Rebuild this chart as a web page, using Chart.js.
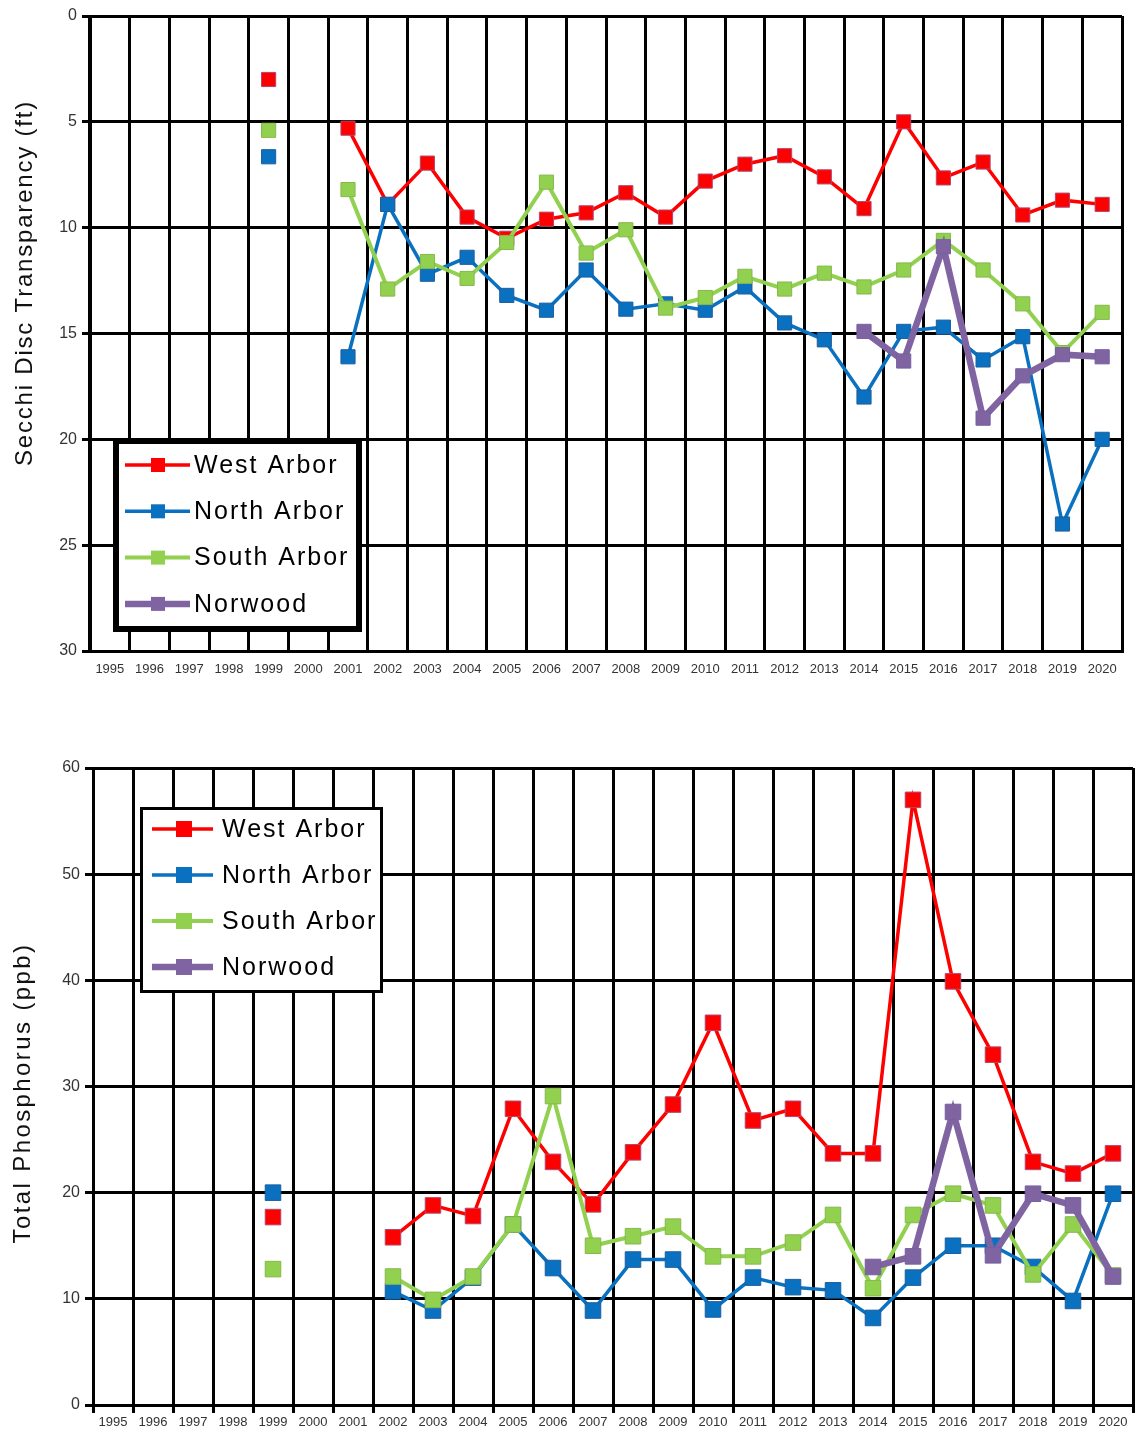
<!DOCTYPE html>
<html>
<head>
<meta charset="utf-8">
<title>Secchi Disc Transparency and Total Phosphorus</title>
<script src="https://cdn.jsdelivr.net/npm/chart.js@4.4.1/dist/chart.umd.min.js"></script>
<style>
  body { margin: 0; background: #fff; overflow: hidden; }
  .wrap { position: absolute; left: 0; width: 1136px; }
</style>
</head>
<body>
<div class="wrap" style="top:0;height:690px"><canvas id="secchi"></canvas></div>
<div class="wrap" style="top:740px;height:695px"><canvas id="phos"></canvas></div>
<script>
const years = ['1995','1996','1997','1998','1999','2000','2001','2002','2003','2004','2005','2006','2007',
  '2008','2009','2010','2011','2012','2013','2014','2015','2016','2017','2018','2019','2020'];
const seriesNames = ['West Arbor', 'North Arbor', 'South Arbor', 'Norwood'];

// Secchi disc transparency (ft), 1995..2020
const secchiWest  = [null,null,null,null,3.0,null,5.3,8.9,6.95,9.5,10.5,9.6,9.3,8.35,9.5,7.8,7.0,6.6,7.6,9.1,5.0,7.65,6.9,9.4,8.7,8.9];
const secchiNorth = [null,null,null,null,6.65,null,16.1,8.9,12.2,11.4,13.2,13.9,12.0,13.85,13.6,13.9,12.8,14.5,15.3,18.0,14.9,14.7,16.25,15.15,24.0,20.0];
const secchiSouth = [null,null,null,null,5.4,null,8.2,12.9,11.6,12.4,10.7,7.85,11.2,10.1,13.8,13.3,12.3,12.9,12.15,12.8,12.0,10.6,12.0,13.6,15.9,14.0];
const secchiNorwood = [null,null,null,null,null,null,null,null,null,null,null,null,null,null,null,null,null,null,null,14.9,16.3,10.9,19.0,17.0,16.0,16.1];
const secchiTicks = [0, 5, 10, 15, 20, 25, 30];

// Total phosphorus (ppb), 1995..2020
const phosWest  = [null,null,null,null,17.7,null,null,15.8,18.8,17.8,27.9,22.9,18.9,23.8,28.3,36.0,26.8,27.9,23.7,23.7,57.0,39.9,33.0,22.9,21.8,23.7];
const phosNorth = [null,null,null,null,20.0,null,null,10.7,8.9,12.0,17.0,12.9,8.9,13.7,13.7,9.0,12.0,11.1,10.8,8.2,12.0,15.0,15.0,13.0,9.8,19.9];
const phosSouth = [null,null,null,null,12.8,null,null,12.1,9.9,12.1,17.0,29.1,15.0,15.9,16.8,14.0,14.0,15.3,17.9,11.0,17.9,19.9,18.8,12.3,17.0,12.2];
const phosNorwood = [null,null,null,null,null,null,null,null,null,null,null,null,null,null,null,null,null,null,null,13.0,14.0,27.6,14.1,19.9,18.8,12.1];
const phosTicks = [0, 10, 20, 30, 40, 50, 60];

const FONT = "'Liberation Sans', Arial, sans-serif";
const colors = ['#ff0000', '#0a70c0', '#92d050', '#8064a2'];
const edges  = ['#b0486e', '#1d5f9e', '#86b84a', '#7460a0'];
const widths = [3.5, 3.5, 4, 6.5];

function makeSets(lists, radius) {
  return lists.map((d, i) => ({
    label: seriesNames[i],
    data: d,
    borderColor: colors[i],
    backgroundColor: colors[i],
    borderWidth: widths[i],
    pointStyle: 'rect',
    pointRadius: radius,
    pointHoverRadius: radius,
    pointBackgroundColor: colors[i],
    pointBorderColor: edges[i],
    pointBorderWidth: 1,
    spanGaps: false,
    tension: 0,
    clip: false,
    order: 3 - i
  }));
}

// legend box drawn inside the plot area
const boxLegend = {
  id: 'boxLegend',
  afterDraw(chart, args, o) {
    const ctx = chart.ctx;
    ctx.save();
    ctx.fillStyle = '#fff';
    ctx.fillRect(o.x, o.y, o.w, o.h);
    ctx.lineWidth = o.border;
    ctx.strokeStyle = '#000';
    ctx.strokeRect(o.x + o.border / 2, o.y + o.border / 2, o.w - o.border, o.h - o.border);
    ctx.font = '25px ' + FONT;
    ctx.letterSpacing = '2px';
    ctx.textBaseline = 'middle';
    chart.data.datasets.forEach((ds, i) => {
      const cy = o.first + i * o.gap;
      ctx.strokeStyle = ds.borderColor;
      ctx.lineWidth = ds.borderWidth;
      ctx.beginPath();
      ctx.moveTo(o.line0, cy);
      ctx.lineTo(o.line1, cy);
      ctx.stroke();
      const s = o.mark;
      ctx.fillStyle = ds.pointBackgroundColor;
      ctx.fillRect(o.markX - s / 2, cy - s / 2, s, s);
      ctx.fillStyle = '#000';
      ctx.fillText(ds.label, o.textX, cy + 1);
    });
    ctx.restore();
  }
};

// rotated y axis title at a fixed spot
const sideTitle = {
  id: 'sideTitle',
  afterDraw(chart, args, o) {
    const ctx = chart.ctx;
    ctx.save();
    ctx.translate(o.x, o.y);
    ctx.rotate(-Math.PI / 2);
    ctx.font = '24px ' + FONT;
    ctx.letterSpacing = o.spacing;
    ctx.fillStyle = '#111';
    ctx.textAlign = 'center';
    ctx.textBaseline = 'middle';
    ctx.fillText(o.text, 0, 0);
    ctx.restore();
  }
};

function build(id, sets, cfg) {
  return new Chart(document.getElementById(id), {
    type: 'line',
    data: { labels: years, datasets: sets },
    plugins: [boxLegend, sideTitle],
    options: {
      responsive: true,
      maintainAspectRatio: false,
      animation: false,
      layout: { padding: cfg.padding, autoPadding: false },
      plugins: {
        legend: { display: false },
        tooltip: { enabled: false },
        boxLegend: cfg.legend,
        sideTitle: cfg.title
      },
      scales: {
        x: {
          offset: true,
          grid: { offset: true, color: '#000', lineWidth: 3, drawTicks: cfg.xTicks, tickLength: 8 },
          border: { color: '#000', width: 3 },
          ticks: { color: '#333', font: { family: FONT, size: 13 }, padding: cfg.xPad, maxRotation: 0, autoSkip: false },
          afterFit: s => { s.height = cfg.xHeight; s.paddingLeft = 0; s.paddingRight = 0; }
        },
        y: {
          min: cfg.min, max: cfg.max, reverse: cfg.reverse,
          afterBuildTicks: s => { s.ticks = cfg.ticks.map(v => ({ value: v })); },
          grid: { color: '#000', lineWidth: 3, tickLength: 8 },
          border: { color: '#000', width: 3 },
          ticks: { color: '#333', font: { family: FONT, size: 16 }, padding: 5 },
          afterFit: s => { s.width = cfg.yWidth; }
        }
      }
    }
  });
}

build('secchi', makeSets([secchiWest, secchiNorth, secchiSouth, secchiNorwood], 10), {
  padding: { top: 16, right: 14, left: 0, bottom: 0 },
  xTicks: false, xPad: 11, xHeight: 39, yWidth: 90,
  min: 0, max: 30, reverse: true, ticks: secchiTicks,
  legend: { x: 113, y: 438, w: 249, h: 194, border: 6, first: 465, gap: 46.3,
            line0: 125, line1: 190, markX: 158, mark: 14, textX: 194 },
  title: { x: 25, y: 283, text: 'Secchi Disc Transparency (ft)', spacing: '1.8px' }
});

build('phos', makeSets([phosWest, phosNorth, phosSouth, phosNorwood], 11), {
  padding: { top: 28, right: 3, left: 0, bottom: 0 },
  xTicks: true, xPad: 2, xHeight: 30, yWidth: 93,
  min: 0, max: 60, reverse: false, ticks: phosTicks,
  legend: { x: 140, y: 67, w: 243, h: 186, border: 3, first: 89, gap: 46,
            line0: 152, line1: 213, markX: 184, mark: 16, textX: 222 },
  title: { x: 23, y: 353, text: 'Total Phosphorus (ppb)', spacing: '2.4px' }
});
</script>
</body>
</html>
